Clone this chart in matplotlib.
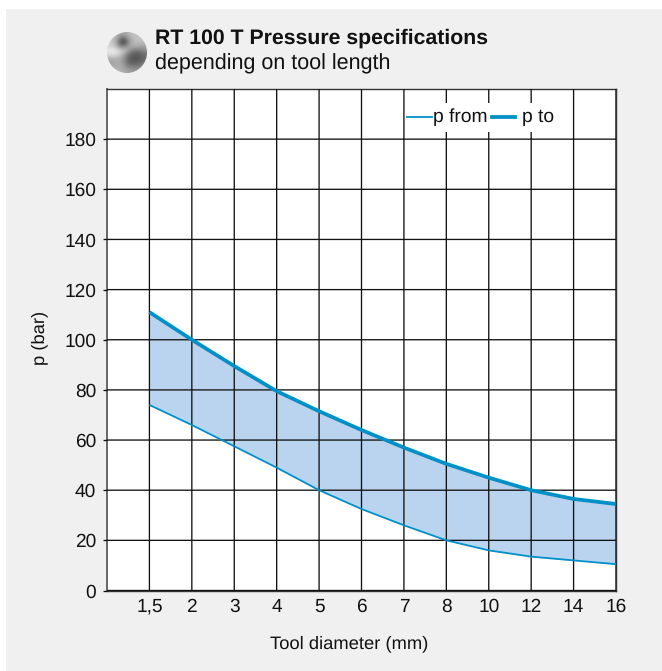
import numpy as np
import matplotlib
matplotlib.use("Agg")
import matplotlib.pyplot as plt
from matplotlib.patches import Circle, Rectangle
from matplotlib.lines import Line2D

plt.rcParams['font.family'] = ['Liberation Sans', 'DejaVu Sans']
plt.rcParams['text.hinting'] = 'no_hinting'

diameters = ['1,5', '2', '3', '4', '5', '6', '7', '8', '10', '12', '14', '16']
p_from = [74, 66, 57.5, 49, 40, 32.5, 26, 20, 16, 13.5, 12, 10.5]
p_to = [111, 100, 89.5, 79.5, 71.5, 64, 57, 50.5, 45, 40, 36.5, 34.5]
y_ticks = [0, 20, 40, 60, 80, 100, 120, 140, 160, 180]
title = 'RT 100 T Pressure specifications'
subtitle = 'depending on tool length'

W, H = 662, 671
BG = '#f0f0f0'
BLUE = '#0090c8'
FILL = '#bad4ef'
INK = '#111111'

fig = plt.figure(figsize=(W / 100, H / 100), dpi=100, facecolor='white')
fig.add_artist(Rectangle((6 / W, 0), (W - 6) / W, (H - 9) / H, transform=fig.transFigure,
                         facecolor=BG, edgecolor='none', zorder=-10))

ax = fig.add_axes([107 / W, 1 - 590.5 / H, 509 / W, 501.5 / H])
ax.set_facecolor('white')
x = np.arange(len(diameters))
ax.set_xlim(-1, len(diameters) - 1)
ax.set_ylim(0, 200)

ax.fill_between(x, p_from, p_to, color=FILL, lw=0, zorder=1)
ax.set_xticks(x, diameters)
ax.set_yticks(y_ticks)
ax.grid(True, color=INK, lw=0.95, zorder=2)
ax.set_axisbelow(False)
for g in ax.get_xgridlines() + ax.get_ygridlines():
    g.set_snap(False)
    g.set_zorder(2)
ax.plot(x, p_from, color=BLUE, lw=1.3, zorder=3, solid_capstyle='butt')
ax.plot(x, p_to, color=BLUE, lw=2.7, zorder=3, solid_capstyle='butt')

for s in ax.spines.values():
    s.set_color('#333333')
    s.set_linewidth(1.0)
ax.spines['left'].set_color('#666666')
ax.spines['left'].set_linewidth(1.4)
ax.tick_params(axis='y', length=3.2, width=0.95, color=INK, labelsize=13.8, labelcolor=INK, pad=4.5)
ax.tick_params(axis='x', length=0, labelsize=13.8, labelcolor=INK, pad=15.2)
for lab in ax.get_xticklabels():
    lab.set_verticalalignment('baseline')

fig.text(349 / W, 1 - 648 / H, 'Tool diameter (mm)', fontsize=13.2, color=INK, ha='center', va='baseline')
fig.text(39.5 / W, 1 - 338 / H, 'p (bar)', fontsize=13.2, color=INK, ha='center', va='center', rotation=90)

# legend, on a white block that interrupts the vertical grid lines
fig.add_artist(Rectangle((410 / W, 1 - 132 / H), 145 / W, 29 / H, transform=fig.transFigure,
                         facecolor='white', edgecolor='none', zorder=5))
fig.add_artist(Line2D([407 / W, 432 / W], [1 - 117 / H] * 2, color=BLUE, lw=1.3, zorder=6))
fig.add_artist(Line2D([492 / W, 515 / W], [1 - 117 / H] * 2, color=BLUE, lw=2.7, zorder=6))
fig.text(433 / W, 1 - 122 / H, 'p from', fontsize=13.9, color=INK, va='baseline', zorder=6)
fig.text(522 / W, 1 - 122 / H, 'p to', fontsize=13.9, color=INK, va='baseline', zorder=6)

fig.text(155 / W, 1 - 43.5 / H, title, fontsize=15.3, fontweight='bold', color=INK, va='baseline')
fig.text(155 / W, 1 - 69.5 / H, subtitle, fontsize=15.5, color=INK, va='baseline')

# round product icon: a blurred grey photo clipped to a disc
icon_shades = np.array([
    [190, 190, 180, 165, 170, 185, 195, 195, 195, 195],
    [195, 190, 170, 110, 120, 170, 190, 195, 195, 195],
    [205, 195, 150,  70,  80, 150, 185, 190, 190, 185],
    [215, 205, 175, 130, 140, 170, 175, 170, 165, 160],
    [235, 235, 225, 205, 190, 150, 125, 120, 130, 140],
    [220, 225, 215, 190, 150, 105,  90,  90, 100, 110],
    [170, 175, 175, 165, 130,  95,  85,  85,  95, 110],
    [160, 165, 170, 165, 130, 100,  95, 100, 110, 120],
    [165, 170, 175, 170, 150, 130, 125, 130, 135, 140],
    [175, 175, 180, 175, 170, 160, 155, 155, 155, 155],
])
icon = fig.add_axes([107 / W, 1 - 73 / H, 40 / W, 41 / H])
icon.axis('off')
im = icon.imshow(icon_shades, cmap='gray', vmin=0, vmax=255, interpolation='bicubic',
                 extent=(0, 1, 0, 1), aspect='auto')
im.set_clip_path(Circle((0.5, 0.5), 0.5, transform=icon.transAxes))

fig.savefig('out.png', dpi=100, facecolor='white')
